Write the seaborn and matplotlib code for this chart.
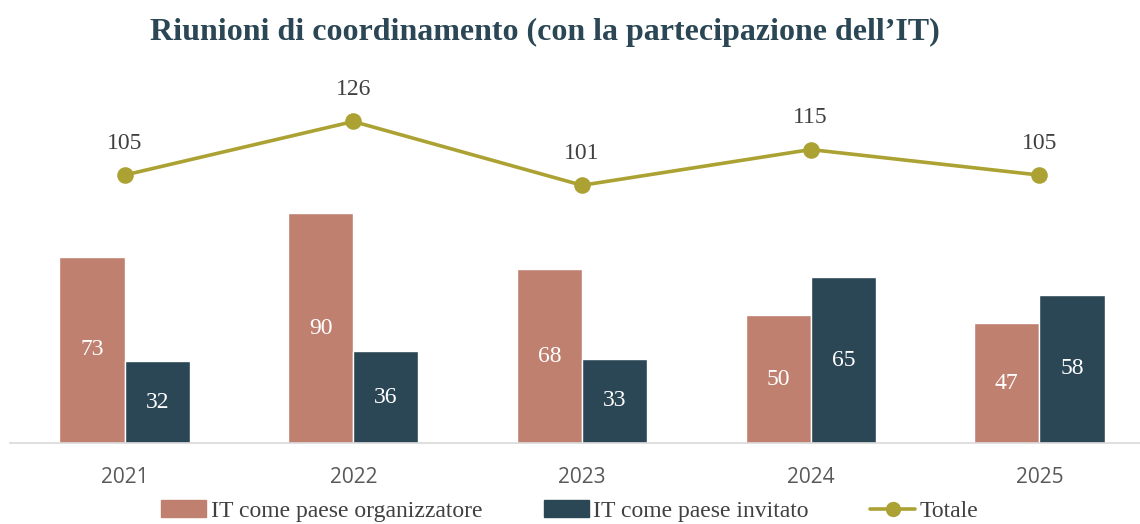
import numpy as np
import pandas as pd
import matplotlib
matplotlib.use('Agg')
import matplotlib.pyplot as plt
import seaborn as sns
from matplotlib.patches import Patch
from matplotlib.lines import Line2D

years = ['2021', '2022', '2023', '2024', '2025']
organizzatore = [73, 90, 68, 50, 47]
invitato = [32, 36, 33, 65, 58]
totale = [105, 126, 101, 115, 105]

lab_org = 'IT come paese organizzatore'
lab_inv = 'IT come paese invitato'
lab_tot = 'Totale'

col_org = '#C08070'
col_inv = '#2B4654'
col_tot = '#ABA233'

sns.set_style('white')
plt.rcParams['font.family'] = ['Liberation Serif', 'DejaVu Serif']

bars_df = pd.DataFrame({
    'anno': years * 2,
    'valore': organizzatore + invitato,
    'tipo': [lab_org] * len(years) + [lab_inv] * len(years),
})
tot_df = pd.DataFrame({'anno': years, 'valore': totale})

fig = plt.figure(figsize=(11.4, 5.24), dpi=100)
ax = fig.add_axes([0.009, 0.1546, 0.991, 0.7304])

sns.barplot(data=bars_df, x='anno', y='valore', hue='tipo',
            palette=[col_org, col_inv], width=0.57, ax=ax, legend=False,
            saturation=1)
sns.pointplot(data=tot_df, x='anno', y='valore', color=col_tot,
              markers='o', markersize=10, linewidth=2.6, ax=ax)

# valori dentro le barre
for cont in ax.containers:
    ax.bar_label(cont, label_type='center', color='white', fontsize=17)

# valori sopra la linea
for i, v in enumerate(totale):
    ax.annotate(str(v), (i, v), xytext=(0, 23), textcoords='offset points',
                ha='center', va='center', fontsize=17, color='#404040')

ax.set_xlim(-0.5, 4.44)
ax.set_ylim(0, 150)
ax.set_xlabel('')
ax.set_ylabel('')
ax.set_yticks([])
for s in ['top', 'right', 'left']:
    ax.spines[s].set_visible(False)
ax.spines['bottom'].set_color('#D9D9D9')
ax.spines['bottom'].set_linewidth(1.2)
ax.tick_params(axis='x', length=0, pad=17)
for t in ax.get_xticklabels():
    t.set_fontfamily(['Open Sans', 'DejaVu Sans'])
    t.set_fontsize(15)
    t.set_color('#595959')

fig.text(0.478, 0.938, 'Riunioni di coordinamento (con la partecipazione dell\u2019IT)',
         ha='center', va='center', fontsize=23, fontweight='bold', color=col_inv)

handles = [Patch(color=col_org), Patch(color=col_inv),
           Line2D([0], [0], color=col_tot, lw=2.6, marker='o', markersize=10)]
fig.legend(handles, [lab_org, lab_inv, lab_tot], loc='center',
           bbox_to_anchor=(0.5, 1 - 511 / 524), ncol=3, frameon=False,
           fontsize=17, handlelength=1.9, columnspacing=2.6, handletextpad=0.2,
           labelcolor='#404040')

fig.savefig('out.png', dpi=100)
